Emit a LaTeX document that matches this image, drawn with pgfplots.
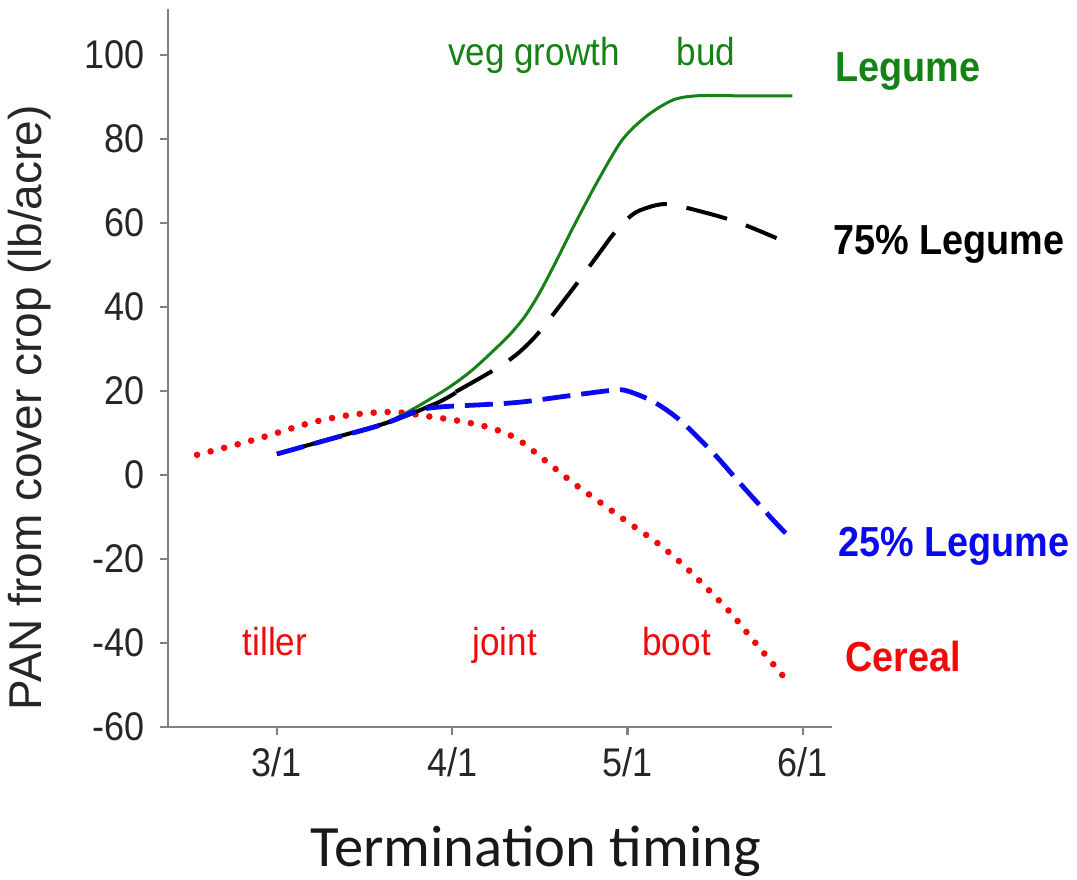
\documentclass[border=0pt]{standalone}
\usepackage{fontspec}
\setmainfont[FakeStretch=0.9]{Liberation Sans}
\newfontfamily\ylabfont{Liberation Sans}
\newfontfamily\calib{Carlito}
\usepackage{pgfplots}
\pgfplotsset{compat=1.18}
\definecolor{cgreen}{RGB}{20,130,20}
\definecolor{cblue}{RGB}{10,10,240}
\definecolor{cred}{RGB}{240,10,10}
\begin{document}
\begin{tikzpicture}
\begin{axis}[
 x=87.65pt, y=2.1pt,
 xmin=-0.622, xmax=3.166, ymin=-60, ymax=111,
 axis x line=bottom, axis y line=left,
 axis line style={-, draw=gray, line width=1.2pt},
 tick style={draw=gray, line width=1.2pt},
 tick align=outside, major tick length=4pt,
 xtick={0,1,2,3}, xticklabels={3/1,4/1,5/1,6/1},
 ytick={-60,-40,-20,0,20,40,60,80,100},
 tick label style={font=\fontsize{20}{22}\selectfont, text=black!85},
 yticklabel style={xshift=-4pt},
 xticklabel style={yshift=-2.5pt},
 /pgf/number format/assume math mode=true,
 clip=false,
]
% Cereal
\addplot[cred, line width=3.3pt, line cap=round, dash pattern=on 0pt off 7pt, smooth] coordinates {
(-0.456,4.8) (-0.137,8.3) (0.19,12.4) (0.42,14.3) (0.66,15) (0.89,13.8) (1.05,12.8) (1.22,11.2) (1.37,8.6) (1.54,3.1) (1.69,-1.9) (1.85,-6.7) (2.0,-11.2) (2.17,-16.2) (2.33,-21.9) (2.57,-32) (2.71,-39) (2.85,-46) (2.92,-49.5)};
% Legume
\addplot[cgreen, line width=1.5pt, smooth] coordinates {
(0,5) (0.32,8.8) (0.64,12.8) (0.93,19.5) (1.1,24.5) (1.25,30.2) (1.33,33.5) (1.415,37.8) (1.5,43.5) (1.6,51.5) (1.69,59) (1.83,70) (1.97,79.8) (2.11,85.5) (2.26,89.3) (2.4,90.3) (2.6,90.3) (2.94,90.3)};
% 75% legume solid start
\addplot[black, line width=2pt, smooth] coordinates {
(0,5) (0.32,8.8) (0.64,12.6) (0.91,17.1) (1.02,19.6)};
% 25% Legume
\addplot[cblue, line width=2.4pt, dash pattern=on 14pt off 5.5pt, smooth] coordinates {
(0,5) (0.3,8.5) (0.6,12) (0.8,15.3) (0.93,16.2) (1.2,16.8) (1.4,17.4) (1.69,19) (1.92,20.2) (2.0,20) (2.15,17.4) (2.3,13) (2.49,5.2) (2.64,-1.9) (2.83,-10.7) (2.94,-15.5)};
% 75% Legume
\addplot[black, line width=2pt, dash pattern=on 21pt off 10pt, smooth] coordinates {
(1.02,19.8) (1.25,25.3) (1.37,28.8) (1.47,32.8) (1.56,37.4) (1.7,45) (1.84,52.9) (1.92,57.4) (2.0,61) (2.07,63) (2.22,64.5) (2.45,62.4) (2.64,60) (2.85,56.4)};

\node[cgreen, anchor=base, font=\fontsize{19.5}{22}\selectfont] at (axis cs:1.466,97.6) {veg growth};
\node[cgreen, anchor=base, font=\fontsize{19.5}{22}\selectfont] at (axis cs:2.447,97.6) {bud};
\node[cred, anchor=base, font=\fontsize{19.5}{22}\selectfont] at (axis cs:-0.011,-42.9) {tiller};
\node[cred, anchor=base, font=\fontsize{19.5}{22}\selectfont] at (axis cs:1.30,-42.9) {joint};
\node[cred, anchor=base, font=\fontsize{19.5}{22}\selectfont] at (axis cs:2.28,-42.9) {boot};

\node[cgreen, anchor=base west, inner sep=0pt, font=\bfseries\fontsize{21}{24}\selectfont] at (axis cs:3.183,93.6) {Legume};
\node[black, anchor=base west, inner sep=0pt, font=\bfseries\fontsize{21}{24}\selectfont] at (axis cs:3.172,52.4) {75\% Legume};
\node[cblue, anchor=base west, inner sep=0pt, font=\bfseries\fontsize{21}{24}\selectfont] at (axis cs:3.20,-19.5) {25\% Legume};
\node[cred, anchor=base west, inner sep=0pt, font=\bfseries\fontsize{21}{24}\selectfont] at (axis cs:3.24,-46.9) {Cereal};

\node[rotate=90, anchor=center, text=black!85, font=\ylabfont\fontsize{23}{26}\selectfont] at (axis cs:-1.409,16) {PAN from cover crop (lb/acre)};
\node[anchor=base, text=black!90, font=\calib\fontsize{29.3}{32}\selectfont] at (axis cs:1.477,-93.1) {Termination timing};

\coordinate (pbl) at (axis cs:-1.580,-96.43);
\coordinate (ptr) at (axis cs:4.564,113.1);
\end{axis}
\pgfresetboundingbox
\path[use as bounding box] (pbl) rectangle (ptr);
\end{tikzpicture}
\end{document}
